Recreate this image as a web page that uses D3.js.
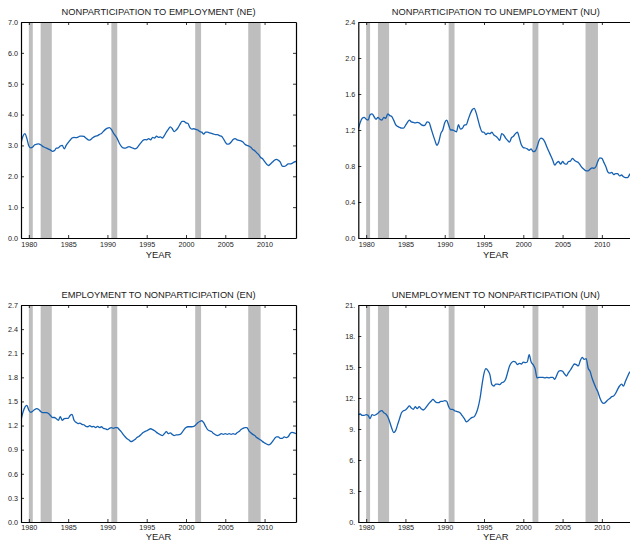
<!DOCTYPE html>
<html>
<head>
<meta charset="utf-8">
<script src="https://cdn.jsdelivr.net/npm/d3@7"></script>
<style>
  html, body { margin: 0; padding: 0; background: #fff; }
  svg { display: block; font-family: "Liberation Sans", Arial, Helvetica, sans-serif; }
</style>
</head>
<body>
<svg id="chart" width="630" height="542"></svg>
<script>
// Quarterly observations, starting 1979Q1
const startYear = 1979;
const quarterStep = 0.25;

// Monthly flow rates (percent), quarterly readings
const neValues = [
  3.07, 3.30, 3.38, 3.22, 2.98, 2.92, 2.95, 3.02, 3.04, 3.05, 3.02, 2.97,
  2.94, 2.91, 2.88, 2.85, 2.81, 2.83, 2.91, 2.92, 2.98, 3.00, 2.89, 3.00,
  3.09, 3.17, 3.24, 3.26, 3.25, 3.27, 3.30, 3.30, 3.29, 3.24, 3.19, 3.17,
  3.22, 3.27, 3.30, 3.32, 3.36, 3.39, 3.46, 3.52, 3.56, 3.58, 3.52, 3.41,
  3.32, 3.22, 3.08, 2.98, 2.92, 2.91, 2.94, 2.96, 2.94, 2.91, 2.89, 2.92,
  3.00, 3.08, 3.16, 3.19, 3.18, 3.22, 3.18, 3.26, 3.24, 3.30, 3.26, 3.28,
  3.24, 3.32, 3.43, 3.52, 3.60, 3.54, 3.45, 3.50, 3.58, 3.69, 3.78, 3.78,
  3.73, 3.71, 3.58, 3.53, 3.54, 3.52, 3.50, 3.45, 3.43, 3.37, 3.43, 3.43,
  3.41, 3.39, 3.37, 3.35, 3.35, 3.32, 3.30, 3.22, 3.11, 3.04, 3.05, 3.11,
  3.19, 3.22, 3.18, 3.16, 3.15, 3.11, 3.04, 3.00, 2.98, 2.94, 2.87, 2.83,
  2.76, 2.70, 2.61, 2.57, 2.48, 2.40, 2.35, 2.40, 2.46, 2.52, 2.55, 2.52,
  2.46, 2.33, 2.32, 2.35, 2.40, 2.40, 2.42, 2.46, 2.48
];

const nuValues = [
  1.21, 1.285, 1.33, 1.34, 1.32, 1.31, 1.37, 1.38, 1.35, 1.32, 1.34, 1.32,
  1.31, 1.34, 1.33, 1.38, 1.36, 1.35, 1.31, 1.26, 1.24, 1.23, 1.22, 1.22,
  1.25, 1.285, 1.31, 1.29, 1.285, 1.28, 1.285, 1.28, 1.26, 1.25, 1.255, 1.29,
  1.285, 1.22, 1.15, 1.085, 1.03, 1.07, 1.16, 1.20, 1.28, 1.31, 1.255, 1.20,
  1.20, 1.19, 1.18, 1.26, 1.21, 1.22, 1.255, 1.26, 1.32, 1.38, 1.425, 1.44,
  1.39, 1.31, 1.23, 1.18, 1.175, 1.15, 1.165, 1.16, 1.175, 1.145, 1.13, 1.11,
  1.085, 1.16, 1.145, 1.11, 1.085, 1.065, 1.115, 1.13, 1.16, 1.175, 1.11, 1.035,
  1.005, 1.00, 0.99, 0.975, 0.99, 0.96, 0.965, 1.01, 1.08, 1.11, 1.10, 1.065,
  1.01, 0.96, 0.915, 0.865, 0.81, 0.835, 0.85, 0.82, 0.85, 0.825, 0.82, 0.85,
  0.855, 0.885, 0.865, 0.85, 0.84, 0.81, 0.78, 0.76, 0.745, 0.745, 0.765, 0.78,
  0.775, 0.795, 0.855, 0.89, 0.885, 0.84, 0.795, 0.735, 0.72, 0.73, 0.705, 0.715,
  0.715, 0.69, 0.70, 0.68, 0.67, 0.67, 0.70, 0.73
];

const enValues = [
  1.265, 1.365, 1.43, 1.45, 1.39, 1.365, 1.38, 1.40, 1.41, 1.40, 1.375, 1.36,
  1.36, 1.36, 1.35, 1.325, 1.30, 1.30, 1.285, 1.265, 1.31, 1.265, 1.285, 1.29,
  1.29, 1.325, 1.34, 1.265, 1.24, 1.225, 1.23, 1.215, 1.21, 1.19, 1.185, 1.20,
  1.185, 1.19, 1.175, 1.19, 1.175, 1.185, 1.165, 1.16, 1.15, 1.165, 1.175, 1.165,
  1.175, 1.175, 1.15, 1.125, 1.09, 1.06, 1.035, 1.02, 1.00, 1.01, 1.025, 1.05,
  1.065, 1.085, 1.11, 1.125, 1.135, 1.15, 1.16, 1.15, 1.135, 1.115, 1.10, 1.085,
  1.075, 1.10, 1.125, 1.10, 1.11, 1.09, 1.075, 1.085, 1.085, 1.09, 1.115, 1.15,
  1.175, 1.185, 1.185, 1.185, 1.19, 1.21, 1.235, 1.25, 1.26, 1.235, 1.19, 1.15,
  1.135, 1.125, 1.10, 1.085, 1.075, 1.085, 1.10, 1.09, 1.10, 1.09, 1.10, 1.09,
  1.10, 1.09, 1.11, 1.125, 1.15, 1.165, 1.175, 1.175, 1.135, 1.11, 1.09, 1.075,
  1.05, 1.035, 1.02, 1.00, 0.985, 0.97, 0.96, 0.97, 1.00, 1.035, 1.06, 1.06,
  1.04, 1.04, 1.06, 1.05, 1.06, 1.10, 1.115, 1.11, 1.10
];

const unValues = [
  10.39, 10.45, 10.32, 10.32, 10.39, 10.32, 10.00, 10.39, 10.32, 10.39, 10.52, 10.71,
  10.77, 10.58, 10.45, 10.19, 9.68, 9.10, 8.65, 8.84, 9.42, 10.00, 10.58, 10.77,
  10.84, 11.03, 11.23, 11.03, 10.90, 11.16, 10.97, 11.16, 10.97, 10.84, 10.97, 11.23,
  11.48, 11.68, 11.87, 11.68, 11.55, 11.55, 11.68, 11.68, 11.74, 11.68, 11.16, 10.90,
  10.90, 10.77, 10.71, 10.65, 10.52, 10.26, 10.00, 9.68, 9.81, 10.00, 10.13, 10.19,
  10.52, 11.10, 12.00, 13.29, 14.39, 14.84, 14.65, 14.26, 13.29, 13.16, 13.35, 13.35,
  13.29, 13.48, 13.55, 13.81, 14.45, 15.10, 15.42, 15.55, 15.48, 15.23, 15.35, 15.29,
  15.48, 15.42, 15.48, 16.19, 15.48, 15.23, 14.84, 13.94, 14.00, 14.00, 14.00, 13.94,
  14.00, 13.94, 14.00, 14.00, 13.81, 14.19, 14.58, 14.65, 14.58, 14.32, 14.13, 14.45,
  14.71, 15.03, 15.29, 15.23, 15.10, 15.61, 15.94, 15.74, 15.81, 14.90, 14.58, 13.94,
  13.42, 12.97, 12.58, 12.00, 11.61, 11.48, 11.61, 11.81, 11.94, 12.13, 12.19, 12.45,
  12.84, 13.16, 13.35, 13.16, 13.61, 14.06, 14.45, 14.65
];

// NBER recession periods (start, end) in fractional years
const recessionStarts = [1980.0, 1981.5, 1990.5, 2001.17, 2007.92];
const recessionEnds   = [1980.5, 1982.92, 1991.25, 2001.92, 2009.5];

const yearTicks = [1980, 1985, 1990, 1995, 2000, 2005, 2010];

const neTicks = [0, 1, 2, 3, 4, 5, 6, 7];
const nuTicks = [0, 0.4, 0.8, 1.2, 1.6, 2.0, 2.4];
const enTicks = [0, 0.3, 0.6, 0.9, 1.2, 1.5, 1.8, 2.1, 2.4, 2.7];
const unTicks = [0, 3, 6, 9, 12, 15, 18, 21];

const panels = [
  { title: "NONPARTICIPATION TO EMPLOYMENT (NE)", values: neValues, ticks: neTicks,
    fmt: d3.format(".1f"), left: 21, top: 22, width: 275, height: 216, pad: 3.5, labelGap: 20 },
  { title: "NONPARTICIPATION TO UNEMPLOYMENT (NU)", values: nuValues, ticks: nuTicks,
    fmt: d3.format(".1f"), left: 358.3, top: 22, width: 275, height: 216, pad: 3.5, labelGap: 20 },
  { title: "EMPLOYMENT TO NONPARTICIPATION (EN)", values: enValues, ticks: enTicks,
    fmt: d3.format(".1f"), left: 21, top: 305, width: 275, height: 217, pad: 2.5, labelGap: 17.6 },
  { title: "UNEMPLOYMENT TO NONPARTICIPATION (UN)", values: unValues, ticks: unTicks,
    fmt: d => d3.format("d")(d) + ".", left: 358.3, top: 305, width: 275, height: 217, pad: 2.5, labelGap: 17.6 }
];

const svg = d3.select("#chart");
const textColor = "#1a1a1a";
const lineColor = "#1460b2";
const barColor = "#bebebe";
const tickLen = 3;

panels.forEach(p => {
  const g = svg.append("g").attr("transform", `translate(${p.left},${p.top})`);
  const x = d3.scaleLinear().domain([1979, 2014]).range([0, p.width]);
  const y = d3.scaleLinear().domain([p.ticks[0], p.ticks[p.ticks.length - 1]]).range([p.height, 0]);

  const clipId = "clip" + p.title.replace(/[^A-Z]/g, "");
  g.append("clipPath").attr("id", clipId)
    .append("rect").attr("width", p.width).attr("height", p.height);

  const plot = g.append("g").attr("clip-path", `url(#${clipId})`);

  // recession shading
  plot.selectAll("rect.rec")
    .data(recessionStarts.map((s, i) => [s, recessionEnds[i]]))
    .join("rect")
    .attr("class", "rec")
    .attr("x", d => x(d[0]))
    .attr("width", d => x(d[1]) - x(d[0]))
    .attr("y", 0)
    .attr("height", p.height)
    .attr("fill", barColor);

  // series line
  const pts = p.values.map((v, i) => [startYear + i * quarterStep, v]);
  plot.append("path")
    .datum(pts)
    .attr("fill", "none")
    .attr("stroke", lineColor)
    .attr("stroke-width", 1.3)
    .attr("stroke-linejoin", "round")
    .attr("d", d3.line().x(d => x(d[0])).y(d => y(d[1])).curve(d3.curveMonotoneX));

  // axes: ticks pointing inward on all four sides
  const bottom = g.append("g").attr("transform", `translate(0,${p.height})`)
    .call(d3.axisBottom(x).tickValues(yearTicks).tickFormat(d3.format("d"))
      .tickSizeInner(-tickLen).tickSizeOuter(0).tickPadding(p.pad));
  const top = g.append("g")
    .call(d3.axisTop(x).tickValues(yearTicks).tickFormat("")
      .tickSizeInner(-tickLen).tickSizeOuter(0));
  const left = g.append("g")
    .call(d3.axisLeft(y).tickValues(p.ticks).tickFormat(p.fmt)
      .tickSizeInner(-tickLen).tickSizeOuter(0).tickPadding(4));
  const right = g.append("g").attr("transform", `translate(${p.width},0)`)
    .call(d3.axisRight(y).tickValues(p.ticks).tickFormat("")
      .tickSizeInner(-tickLen).tickSizeOuter(0));

  [bottom, top, left, right].forEach(a => {
    a.selectAll("path.domain").attr("stroke", "#000").attr("stroke-width", 1.2);
    a.selectAll(".tick line").attr("stroke", "#000").attr("stroke-width", 0.8);
    a.selectAll(".tick text").attr("fill", textColor).style("font-size", "7.2px");
  });
  left.selectAll(".tick text").attr("dx", "1");

  // title
  g.append("text")
    .attr("x", p.width / 2)
    .attr("y", -7)
    .attr("text-anchor", "middle")
    .attr("fill", textColor)
    .style("font-size", "9.3px")
    .text(p.title);

  // x axis label
  g.append("text")
    .attr("x", p.width / 2)
    .attr("y", p.height + p.labelGap)
    .attr("text-anchor", "middle")
    .attr("fill", textColor)
    .style("font-size", "9.4px")
    .text("YEAR");
});
</script>
</body>
</html>
